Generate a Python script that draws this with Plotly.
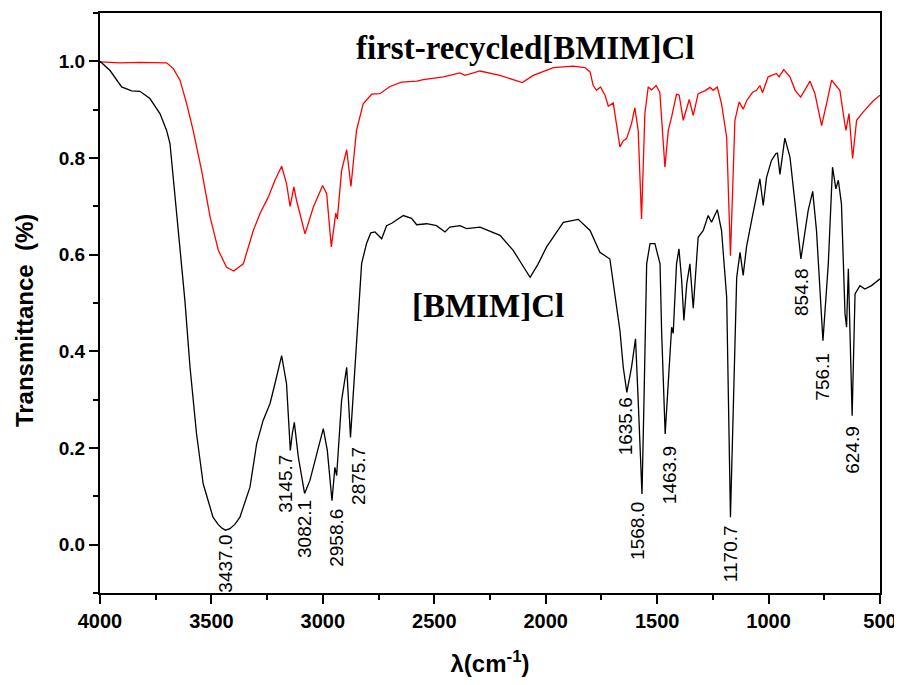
import numpy as np
import plotly.graph_objects as go

# ---------------- data ----------------
wn_pure = [4000, 3955, 3903, 3858, 3821, 3776, 3731, 3701, 3686, 3663, 3641, 3619, 3596, 3567,
           3537, 3493, 3470, 3455, 3437, 3417, 3395, 3372, 3327, 3297, 3268, 3237, 3215, 3185, 3163, 3146,
           3137, 3128, 3110, 3082, 3058, 3028, 2998, 2980, 2959, 2946, 2938, 2916, 2893, 2876,
           2856, 2837, 2826, 2804, 2785, 2766, 2736, 2714, 2691, 2639, 2602, 2579, 2534, 2490,
           2452, 2430, 2385, 2355, 2295, 2205, 2146, 2100, 2070, 2035, 1996, 1921, 1854, 1801,
           1757, 1712, 1684, 1667, 1652, 1636, 1615, 1597, 1585, 1568, 1559, 1552, 1547, 1532,
           1510, 1487, 1480, 1464, 1450, 1435, 1428, 1413, 1402, 1390, 1380, 1367, 1353, 1338,
           1316, 1293, 1271, 1256, 1230, 1211, 1188, 1171, 1143, 1128, 1114, 1099, 1076, 1054,
           1039, 1024, 1009, 987, 967, 960, 949, 927, 904, 881, 855, 822, 802, 785, 756, 732,
           713, 698, 687, 673, 657, 650, 642, 625, 612, 590, 568, 538, 500]
t_pure = [1.0, 0.981, 0.947, 0.939, 0.938, 0.923, 0.892, 0.857, 0.83, 0.719, 0.616, 0.505, 0.367, 0.230,
          0.126, 0.057, 0.042, 0.035, 0.030, 0.033, 0.042, 0.057, 0.119, 0.209, 0.257, 0.292, 0.333, 0.391, 0.333, 0.195,
          0.230, 0.253, 0.181, 0.106, 0.133, 0.188, 0.240, 0.195, 0.091, 0.160, 0.143, 0.298, 0.367, 0.222,
          0.367, 0.505, 0.582, 0.623, 0.645, 0.647, 0.633, 0.660, 0.665, 0.681, 0.675, 0.662, 0.664, 0.660,
          0.647, 0.657, 0.660, 0.654, 0.657, 0.640, 0.609, 0.575, 0.553, 0.580, 0.616, 0.667, 0.673, 0.650,
          0.605, 0.591, 0.505, 0.443, 0.367, 0.315, 0.367, 0.426, 0.298, 0.105, 0.298, 0.505, 0.581, 0.623,
          0.623, 0.581, 0.443, 0.229, 0.333, 0.450, 0.437, 0.581, 0.612, 0.547, 0.464, 0.540, 0.581, 0.489,
          0.636, 0.650, 0.681, 0.667, 0.693, 0.650, 0.512, 0.057, 0.553, 0.605, 0.557, 0.616, 0.671, 0.726,
          0.757, 0.702, 0.760, 0.795, 0.809, 0.810, 0.766, 0.841, 0.802, 0.705, 0.591, 0.692, 0.731, 0.650, 0.422, 0.581,
          0.781, 0.736, 0.754, 0.705, 0.478, 0.450, 0.571, 0.267, 0.519, 0.536, 0.529, 0.536, 0.550]

wn_recycled = [4000, 3910, 3821, 3701, 3671, 3641, 3611, 3582, 3544, 3506, 3469, 3432, 3400, 3357,
               3312, 3282, 3245, 3215, 3185, 3163, 3147, 3130, 3118, 3080, 3043, 3001, 2983, 2962,
               2942, 2935, 2916, 2893, 2874, 2849, 2819, 2781, 2744, 2721, 2699, 2647, 2579, 2549,
               2460, 2385, 2362, 2295, 2205, 2105, 2056, 1966, 1877, 1824, 1801, 1787, 1772, 1754,
               1734, 1719, 1697, 1667, 1652, 1637, 1615, 1600, 1585, 1570, 1555, 1540, 1525, 1505,
               1488, 1465, 1450, 1435, 1413, 1401, 1383, 1356, 1338, 1316, 1286, 1263, 1248, 1230,
               1211, 1188, 1171, 1151, 1132, 1114, 1099, 1072, 1054, 1039, 1027, 1002, 965, 953,
               932, 904, 881, 856, 814, 792, 762, 740, 717, 698, 680, 665, 653, 639, 623, 605,
               576, 531, 500]
t_recycled = [0.999, 0.997, 0.998, 0.997, 0.985, 0.961, 0.912, 0.857, 0.774, 0.678, 0.609, 0.574, 0.566, 0.581,
              0.650, 0.685, 0.719, 0.754, 0.783, 0.747, 0.700, 0.740, 0.712, 0.643, 0.698, 0.743, 0.726, 0.616,
              0.686, 0.674, 0.774, 0.817, 0.741, 0.857, 0.912, 0.932, 0.933, 0.940, 0.948, 0.957, 0.959, 0.962,
              0.968, 0.976, 0.971, 0.980, 0.971, 0.956, 0.971, 0.987, 0.990, 0.987, 0.978, 0.950, 0.940, 0.947,
              0.930, 0.907, 0.914, 0.823, 0.836, 0.840, 0.871, 0.904, 0.857, 0.674, 0.892, 0.947, 0.941, 0.950,
              0.936, 0.781, 0.857, 0.885, 0.932, 0.930, 0.878, 0.921, 0.888, 0.933, 0.939, 0.946, 0.940, 0.947,
              0.912, 0.843, 0.598, 0.878, 0.916, 0.901, 0.918, 0.936, 0.940, 0.950, 0.935, 0.968, 0.975, 0.968,
              0.983, 0.968, 0.940, 0.926, 0.959, 0.933, 0.867, 0.912, 0.961, 0.950, 0.940, 0.892, 0.857, 0.892,
              0.799, 0.878, 0.895, 0.918, 0.930]

peak_labels = ["3437.0", "3145.7", "3082.1", "2958.6", "2875.7", "1635.6", "1568.0",
               "1463.9", "1170.7", "854.8", "756.1", "624.9"]

x_tick_vals = [4000, 3500, 3000, 2500, 2000, 1500, 1000, 500]
y_tick_vals = [0.0, 0.2, 0.4, 0.6, 0.8, 1.0]

# ---------------- styling ----------------
label_shift = {  # pixel offsets of the peak labels (xshift, yshift)
    "3437.0": (0, -2), "3145.7": (-5, -2), "3082.1": (0, -5), "2958.6": (5, -6),
    "2875.7": (8, -8), "1635.6": (-2, -3), "1568.0": (-4, -6), "1463.9": (5, -10),
    "1170.7": (0, -6), "854.8": (0, -7), "756.1": (0, -10), "624.9": (0, -8),
}

fig = go.Figure()
fig.add_trace(go.Scatter(x=wn_recycled, y=t_recycled, mode="lines",
                         line=dict(color="#ff0000", width=1.3), showlegend=False))
fig.add_trace(go.Scatter(x=wn_pure, y=t_pure, mode="lines",
                         line=dict(color="#000000", width=1.3), showlegend=False))

wp = np.array(wn_pure, dtype=float)
tp = np.array(t_pure, dtype=float)
for lab in peak_labels:
    xv = float(lab)
    mask = np.abs(wp - xv) <= 15
    yv = tp[mask].min() if mask.any() else float(np.interp(xv, wp[::-1], tp[::-1]))
    dx, dy = label_shift[lab]
    fig.add_annotation(x=xv, y=yv, text=lab, showarrow=False, textangle=-90,
                       xanchor="center", yanchor="top", xshift=dx, yshift=dy,
                       font=dict(family="Liberation Sans, Arial", size=19, color="black"))

fig.add_annotation(x=2095, y=1.027, text="first-recycled[BMIM]Cl", showarrow=False,
                   xanchor="center", yanchor="middle",
                   font=dict(family="Liberation Serif, Times New Roman", size=33, color="black",
                             weight="bold"))
fig.add_annotation(x=2259, y=0.493, text="[BMIM]Cl", showarrow=False,
                   xanchor="center", yanchor="middle",
                   font=dict(family="Liberation Serif, Times New Roman", size=33, color="black",
                             weight="bold"))
fig.add_annotation(xref="paper", yref="paper", x=-0.096, y=0.469,
                   text="Transmittance\u00a0 (%)", showarrow=False, textangle=-90,
                   xanchor="center", yanchor="middle",
                   font=dict(family="Liberation Sans, Arial", size=24, color="black", weight="bold"))

axis_common = dict(showline=True, linecolor="black", linewidth=2, mirror=True,
                   showgrid=False, zeroline=False, ticks="outside", tickwidth=2,
                   ticklen=9, tickcolor="black", automargin=False)

fig.update_xaxes(range=[4000, 500], tickvals=x_tick_vals,
                 ticktext=[str(v) for v in x_tick_vals],
                 minor=dict(dtick=250, ticks="outside", ticklen=5, tickwidth=2, tickcolor="black"),
                 tickfont=dict(family="Liberation Sans, Arial", size=20, color="black", weight="bold"),
                 title=dict(text="λ(cm<sup>-1</sup>)", standoff=28,
                            font=dict(family="Liberation Sans, Arial", size=24, color="black",
                                      weight="bold")),
                 **axis_common)
fig.update_yaxes(range=[-0.1, 1.1], tickvals=y_tick_vals,
                 ticktext=[f"{v:.1f}" for v in y_tick_vals],
                 minor=dict(dtick=0.1, ticks="outside", ticklen=5, tickwidth=2, tickcolor="black"),
                 tickfont=dict(family="Liberation Sans, Arial", size=19, color="black", weight="bold"),
                 **axis_common)

# page body has an 8px margin: keep the page inside the 902x685 window (no scrollbars)
fig.update_layout(width=894, height=669, autosize=False,
                  margin=dict(l=92, r=22, t=5, b=84),
                  paper_bgcolor="white", plot_bgcolor="white")

fig.write_html("out.html")
